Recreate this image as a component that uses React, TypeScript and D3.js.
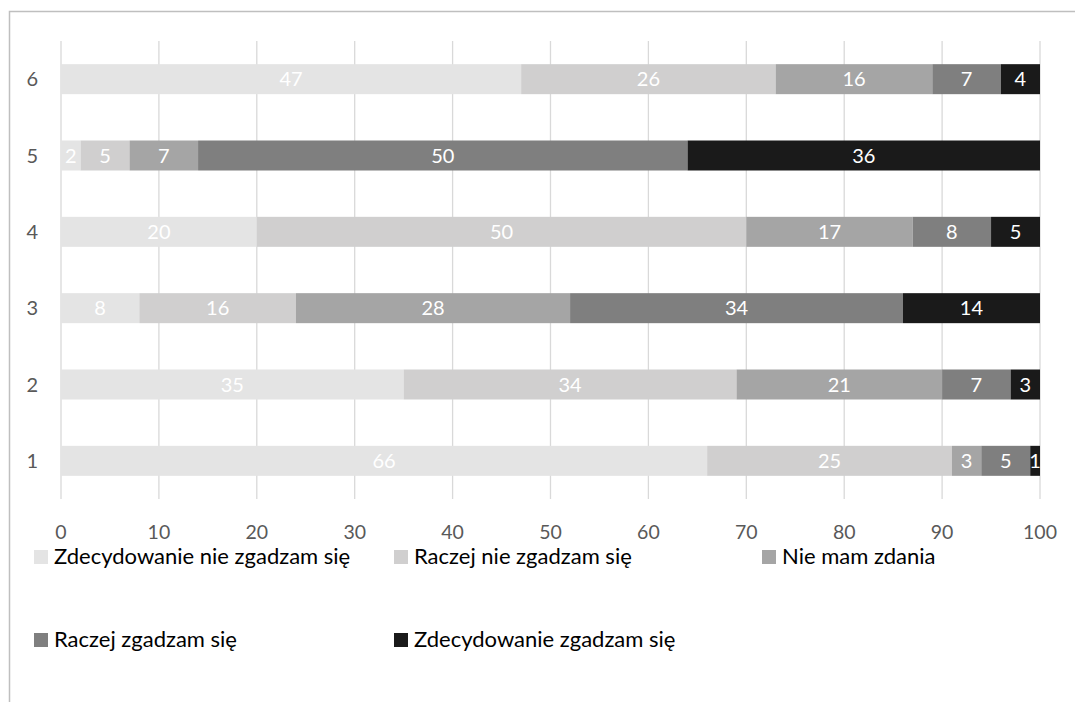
import React from "react";
import * as d3 from "d3";

const categories = ["1", "2", "3", "4", "5", "6"];
const seriesNames = [
  "Zdecydowanie nie zgadzam się",
  "Raczej nie zgadzam się",
  "Nie mam zdania",
  "Raczej zgadzam się",
  "Zdecydowanie zgadzam się",
];
const s1 = [66, 35, 8, 20, 2, 47];
const s2 = [25, 34, 16, 50, 5, 26];
const s3 = [3, 21, 28, 17, 7, 16];
const s4 = [5, 7, 34, 8, 50, 7];
const s5 = [1, 3, 14, 5, 36, 4];
const xTicks = [0, 10, 20, 30, 40, 50, 60, 70, 80, 90, 100];
const colors = ["#e4e4e4", "#d0cfcf", "#a5a5a5", "#7f7f7f", "#1a1a1a"];

const W = 1075;
const H = 702;
const FONT = "Lato, 'Open Sans', sans-serif";

export default function App() {
  const seriesValues = [s1, s2, s3, s4, s5];
  const rows = categories.map((c, i) => {
    const r: any = { cat: c };
    seriesNames.forEach((n, k) => (r[n] = seriesValues[k][i]));
    return r;
  });
  const stack = d3.stack<any>().keys(seriesNames)(rows);

  const x = d3.scaleLinear().domain([0, 100]).range([61, 1040]);
  const y = d3
    .scaleBand<string>()
    .domain([...categories].reverse())
    .range([41, 499])
    .paddingInner(0.607)
    .paddingOuter(0.3035);

  const legendPos = [
    [34, 550],
    [394, 550],
    [762, 550],
    [34, 633],
    [394, 633],
  ];

  return (
    <svg
      width={W}
      height={H}
      style={{ position: "absolute", left: 0, top: 0, background: "#fff" }}
    >
      <rect x={9.5} y={11.5} width={W + 10} height={H + 10} fill="#fff" stroke="#bfbfbf" strokeWidth={1.5} />
      {xTicks.map((t) => (
        <line key={t} x1={x(t)} x2={x(t)} y1={41} y2={499} stroke="#d9d9d9" strokeWidth={1.3} />
      ))}
      {stack.map((layer, k) =>
        layer.map((d, i) => {
          const cat = categories[i];
          const x0 = x(d[0]);
          const x1 = x(d[1]);
          const yy = y(cat)!;
          const bw = y.bandwidth();
          return (
            <g key={`${k}-${i}`}>
              <rect x={x0} y={yy} width={x1 - x0} height={bw} fill={colors[k]} />
              <text
                x={(x0 + x1) / 2}
                y={yy + bw / 2}
                dy="0.36em"
                textAnchor="middle"
                fill="#ffffff"
                fontFamily={FONT}
                fontSize={20}
              >
                {d[1] - d[0]}
              </text>
            </g>
          );
        })
      )}
      {categories.map((c) => (
        <text
          key={c}
          x={38}
          y={y(c)! + y.bandwidth() / 2}
          dy="0.36em"
          textAnchor="end"
          fill="#595959"
          fontFamily={FONT}
          fontSize={20}
        >
          {c}
        </text>
      ))}
      {xTicks.map((t) => (
        <text
          key={t}
          x={x(t)}
          y={539}
          textAnchor="middle"
          fill="#595959"
          fontFamily={FONT}
          fontSize={19.5}
        >
          {t}
        </text>
      ))}
      {seriesNames.map((n, k) => (
        <g key={n}>
          <rect x={legendPos[k][0]} y={legendPos[k][1]} width={14} height={14} fill={colors[k]} />
          <text
            x={legendPos[k][0] + 20}
            y={legendPos[k][1] + 14}
            fill="#000"
            fontFamily={FONT}
            fontSize={22}
          >
            {n}
          </text>
        </g>
      ))}
    </svg>
  );
}
